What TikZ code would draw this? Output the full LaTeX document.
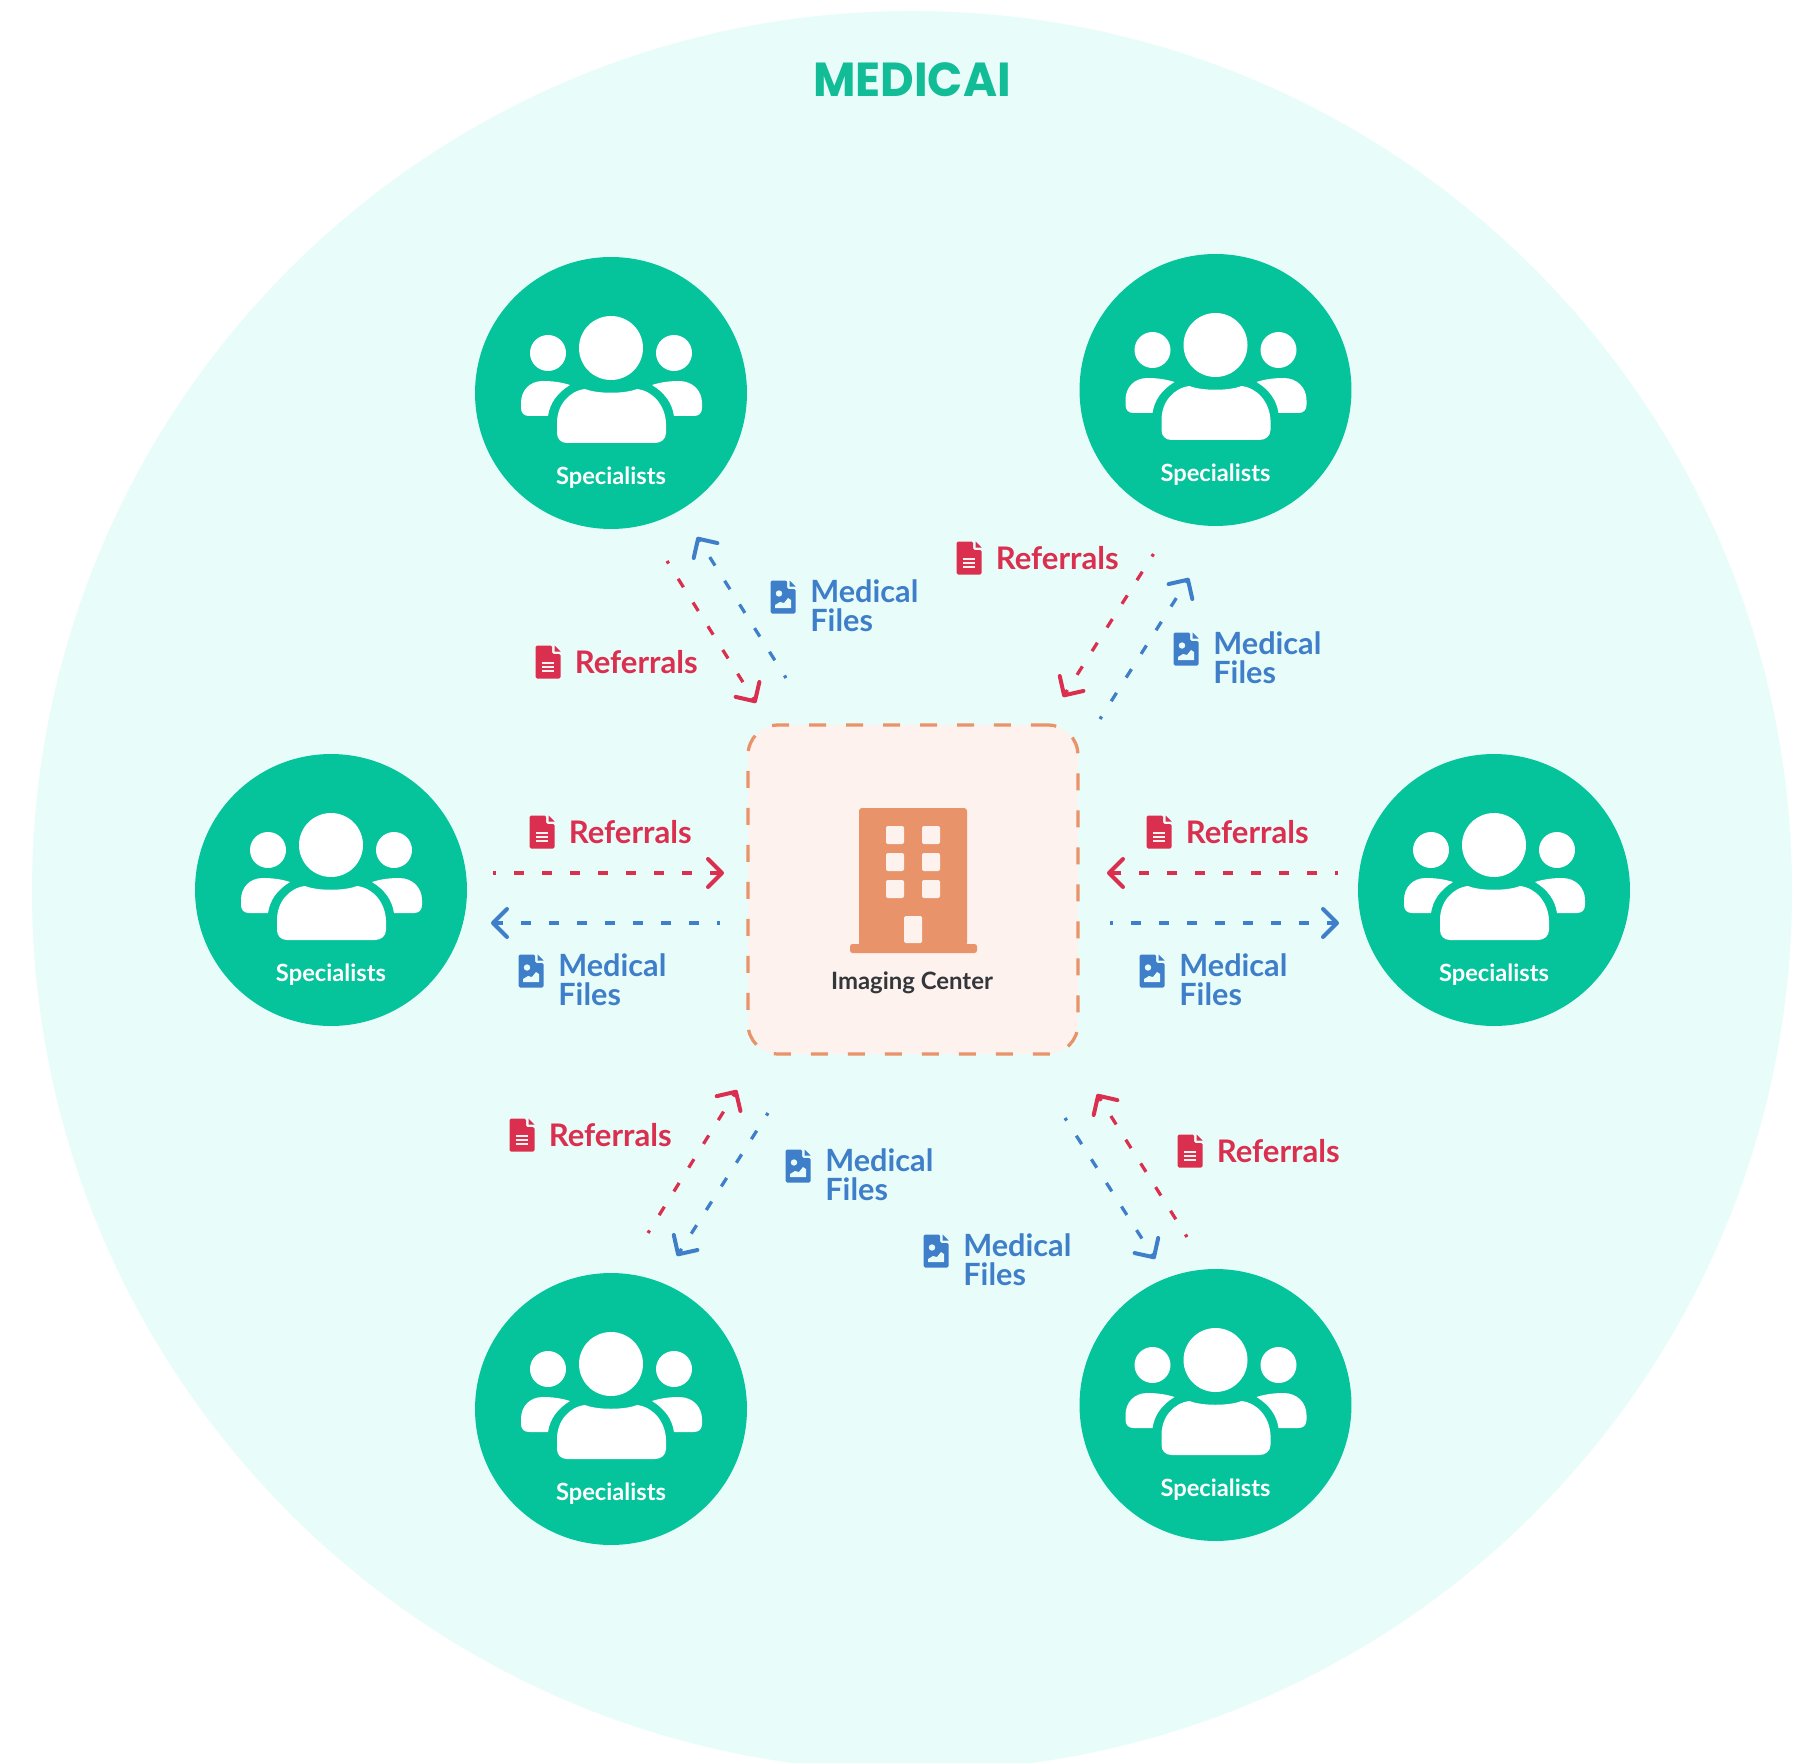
\documentclass[tikz,border=0pt]{standalone}
\usepackage{fontspec}
\setmainfont{Lato}
\newfontfamily\logofont{Poppins}
\usetikzlibrary{arrows.meta}
\definecolor{bgteal}{HTML}{E8FDF9}
\definecolor{spgreen}{HTML}{05C39B}
\definecolor{logogreen}{HTML}{12BC96}
\definecolor{refred}{HTML}{DB2F50}
\definecolor{medblue}{HTML}{3F7EC9}
\definecolor{orangeb}{HTML}{E9936A}
\definecolor{boxfill}{HTML}{FDF2EE}
\definecolor{inkdark}{HTML}{33363A}
\tikzset{
  x=0.02cm,y=-0.02cm,
  spcircle/.style={circle,fill=spgreen,minimum size=5.44cm,inner sep=0pt},
  splabel/.style={text=white,font=\bfseries\fontsize{13.5}{15}\selectfont,inner sep=0pt},
  reflabel/.style={text=refred,font=\bfseries\fontsize{17.7}{17}\selectfont,anchor=base west,inner sep=0pt},
  medlabel/.style={text=medblue,font=\bfseries\fontsize{17.45}{16.4}\selectfont,anchor=west,align=left,inner sep=0pt},
  flowline/.style={line width=0.065cm,dash pattern=on 0.2cm off 0.36cm,dash phase=0.14cm,
    -{Straight Barb[length=0.28cm,width=0.56cm,line width=0.08cm,round]}},
  redflow/.style={flowline,draw=refred},
  blueflow/.style={flowline,draw=medblue},
  people/.pic={
    \fill[white] (0,-45) circle (32);
    \fill[white] (-63,-40) circle (18);
    \fill[white] (63,-40) circle (18);
    \fill[white] (-44,50) .. controls (-50,50) and (-54,46) .. (-54,40)
      -- (-54,30) .. controls (-54,12) and (-42,-2) .. (-26,-4)
      .. controls (-14,1) and (14,1) .. (26,-4)
      .. controls (42,-2) and (54,12) .. (55,30)
      -- (55,40) .. controls (55,46) and (50,50) .. (44,50) -- cycle;
    \fill[white] (-41,-8) .. controls (-50,-11) and (-60,-12) .. (-68,-12)
      .. controls (-82,-12) and (-90,-2) .. (-90,10)
      -- (-90,15) .. controls (-90,20) and (-87,23) .. (-82,23)
      -- (-63,23) .. controls (-61,10) and (-54,0) .. (-41,-8) -- cycle;
    \fill[white] (41,-8) .. controls (50,-11) and (60,-12) .. (68,-12)
      .. controls (82,-12) and (91,-2) .. (91,10)
      -- (91,15) .. controls (91,20) and (88,23) .. (83,23)
      -- (63,23) .. controls (61,10) and (54,0) .. (41,-8) -- cycle;
  },
  refdoc/.pic={
    \fill[refred,rounded corners=0.03cm] (-12.5,-16.5) -- (4,-16.5) -- (4,-8) -- (12.5,-8) -- (12.5,16.5) -- (-12.5,16.5) -- cycle;
    \fill[refred] (6.5,-16.5) -- (12.5,-10.5) -- (6.5,-10.5) -- cycle;
    \fill[boxfill] (-6,0) rectangle (6,2.2);
    \fill[boxfill] (-6,4) rectangle (6,6.2);
    \fill[boxfill] (-6,8) rectangle (6,10.2);
  },
  meddoc/.pic={
    \fill[medblue,rounded corners=0.03cm] (-12.5,-16.5) -- (4,-16.5) -- (4,-8) -- (12.5,-8) -- (12.5,16.5) -- (-12.5,16.5) -- cycle;
    \fill[medblue] (6.5,-16.5) -- (12.5,-10.5) -- (6.5,-10.5) -- cycle;
    \fill[bgteal] (-4,-3.5) circle (3.2);
    \fill[bgteal] (-8,11) -- (-8,8) -- (-3,5) -- (1,6) -- (5,1) -- (8,3) -- (8,11) -- cycle;
  },
}
\newcommand{\refitem}[3]{%
  \pic at (#2,#3) {refdoc};
  \node[reflabel] (ref#1) at (#2+26.5,#3+11) {Referrals};
}
\newcommand{\meditem}[3]{%
  \pic at (#2,#3) {meddoc};
  \node[medlabel] (med#1) at (#2+27,#3+9) {Medical\\Files};
}
\newcommand{\spitem}[3]{%
  \node[spcircle] (sp#1) at (#2,#3) {};
  \pic at (#2,#3) {people};
  \node[splabel] (splab#1) at (#2,#3+85) {Specialists};
}
\begin{document}
\begin{tikzpicture}
\useasboundingbox (0,0) rectangle (1798,1763);
\fill[white] (0,0) rectangle (1798,1763);
\begin{scope}
  \clip (0,0) rectangle (1798,1763);
  \fill[bgteal] (912,891) circle (880);
\end{scope}

\node[text=logogreen,inner sep=0pt] (logo) at (912,79.5) {\scalebox{0.94}[0.97]{\logofont\bfseries\fontsize{28}{30}\selectfont MEDICAI}};

\spitem{tl}{611}{393}
\spitem{tr}{1215.5}{390}
\spitem{l}{331}{890}
\spitem{r}{1494}{890}
\spitem{bl}{611}{1409}
\spitem{br}{1215.5}{1405}

% centre box
\node[draw=orangeb,fill=boxfill,line width=0.065cm,dash pattern=on 0.34cm off 0.4cm,rounded corners=0.6cm,
  minimum width=6.6cm,minimum height=6.58cm,inner sep=0pt] (centerbox) at (913,889.5) {};
\fill[orangeb,rounded corners=0.06cm] (859,808) -- (967,808) -- (967,946) -- (859,946) -- cycle;
\fill[orangeb,rounded corners=0.05cm] (850,944) rectangle (977,953);
\foreach \wx in {886,922} \foreach \wy in {826,853,880} {
  \fill[boxfill,rounded corners=0.04cm] (\wx,\wy) rectangle ++(18,18);
}
\fill[boxfill,rounded corners=0.03cm] (904,916) rectangle (922,943);
\node[text=inkdark,font=\bfseries\fontsize{13.6}{15}\selectfont,inner sep=0pt] (imaging) at (912,983) {Imaging Center};

% connector ends
\coordinate (rtlA) at (667,561);  \coordinate (rtlB) at (756,703);
\coordinate (btlA) at (786,678);  \coordinate (btlB) at (697,537);
\coordinate (rtrA) at (1153.5,554); \coordinate (rtrB) at (1063,697);
\coordinate (btrA) at (1100,719); \coordinate (btrB) at (1189,578);
\coordinate (rlA) at (493,873);   \coordinate (rlB) at (724,873);
\coordinate (blA) at (720,923);   \coordinate (blB) at (491,923);
\coordinate (rrA) at (1338,873);  \coordinate (rrB) at (1107,873);
\coordinate (brA) at (1110,923);  \coordinate (brB) at (1339,923);
\coordinate (rblA) at (648,1233); \coordinate (rblB) at (737,1090);
\coordinate (bblA) at (768,1113); \coordinate (bblB) at (677,1256);
\coordinate (rbrA) at (1187,1237); \coordinate (rbrB) at (1097,1094);
\coordinate (bbrA) at (1065,1118); \coordinate (bbrB) at (1155,1259);

\draw[redflow] (rtlA) -- (rtlB);
\draw[blueflow] (btlA) -- (btlB);
\draw[redflow] (rtrA) -- (rtrB);
\draw[blueflow] (btrA) -- (btrB);
\draw[redflow] (rlA) -- (rlB);
\draw[blueflow] (blA) -- (blB);
\draw[redflow] (rrA) -- (rrB);
\draw[blueflow] (brA) -- (brB);
\draw[redflow] (rblA) -- (rblB);
\draw[blueflow] (bblA) -- (bblB);
\draw[redflow] (rbrA) -- (rbrB);
\draw[blueflow] (bbrA) -- (bbrB);

\refitem{tl}{548}{662}
\refitem{tr}{969}{558}
\refitem{l}{542}{832}
\refitem{r}{1159}{832}
\refitem{bl}{522}{1135}
\refitem{br}{1190}{1151}
\meditem{tl}{783}{597}
\meditem{tr}{1186}{649}
\meditem{l}{531}{971}
\meditem{r}{1152}{971}
\meditem{bl}{798}{1166}
\meditem{br}{936}{1251}
\end{tikzpicture}
\end{document}
